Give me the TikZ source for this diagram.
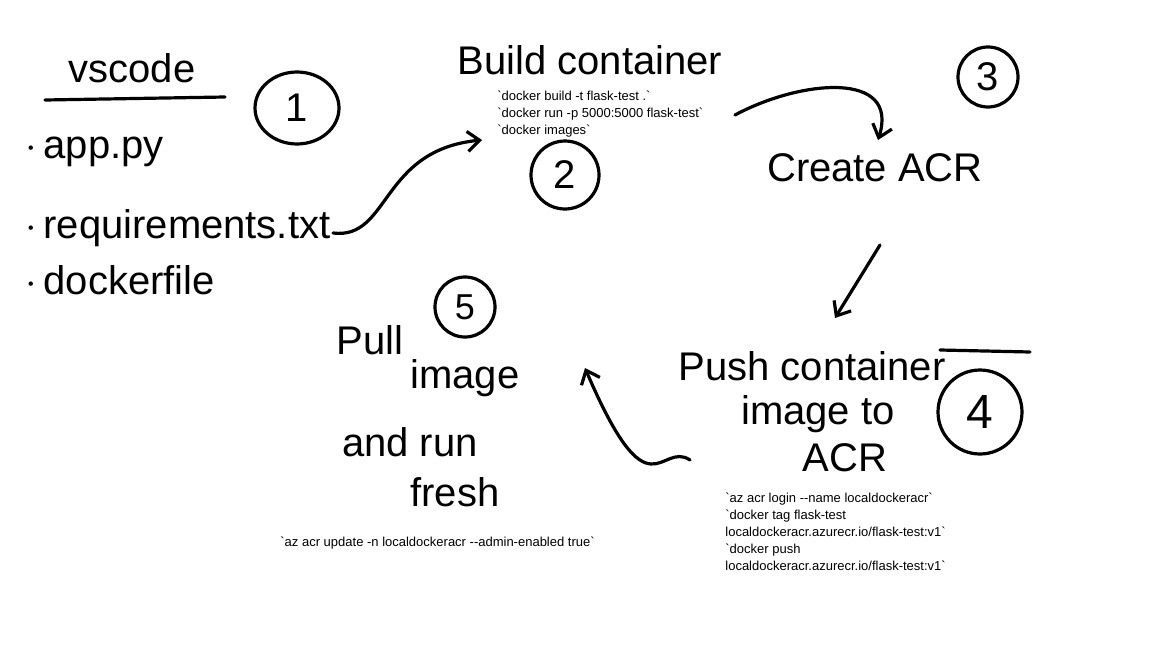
\documentclass[tikz,border=0pt]{standalone}
\usepackage{fontspec}
\setmainfont{Liberation Sans}
\newfontfamily\cmdfont{Liberation Sans}[Ligatures=TeXOff]
\usetikzlibrary{arrows.meta,shapes.geometric}
\tikzset{
  hand/.style={font=\fontsize{20}{22}\selectfont, inner sep=0pt},
  cmd/.style={font=\cmdfont\fontsize{6.5}{8.5}\selectfont, align=left, inner sep=0pt, anchor=north west},
  stroke/.style={line width=1.6pt, line cap=round, line join=round},
  num/.style={stroke, draw, ellipse, minimum width=#1, minimum height=#1},
  bigarrow/.style={stroke, -{Straight Barb[length=6pt,width=10pt]}},
}
\begin{document}
\begin{tikzpicture}[x=0.5pt,y=-0.5pt]
  \useasboundingbox (0,0) rectangle (1152,648);
  %VSCODE
  \node[hand] (vscode) at (132,68) {vscode};
  \draw[stroke] (45,100) -- (225,97);
  \node[num=36pt, minimum width=42pt] (one) at (297,108) {\fontsize{20}{22}\selectfont 1};
  \node[hand, anchor=west] (app) at (25,152) {$\cdot$\,app.py};
  \node[hand, anchor=west] (req) at (25,228) {$\cdot$\,requirements.txt};
  \node[hand, anchor=west] (dock) at (25,280) {$\cdot$\,dockerfile};
  %BUILD
  \node[hand] (build) at (590,60) {Build container};
  \node[cmd] (buildcmd) at (497,91) {`docker build -t flask-test .`\\`docker run -p 5000:5000 flask-test`\\`docker images`};
  \node[num=34pt] (two) at (565,175) {\fontsize{20}{22}\selectfont 2};
  \coordinate (a1s) at (333,233);
  \coordinate (a1e) at (482,140);
  \draw[bigarrow] (a1s) .. controls (390,240) and (380,150) .. (a1e);
  %ACR
  \node[num=30pt] (three) at (988,77) {\fontsize{20}{22}\selectfont 3};
  \node[hand] (acr) at (875,168) {Create ACR};
  \coordinate (a2s) at (735,115);
  \coordinate (a2e) at (878,140);
  \draw[bigarrow] (a2s) .. controls (800,80) and (900,70) .. (a2e);
  \coordinate (a3s) at (880,245);
  \coordinate (a3e) at (835,318);
  \draw[bigarrow] (a3s) -- (a3e);
  %PUSH
  \node[hand] (push) at (812,366) {Push container};
  \node[hand] (pushb) at (818,414) {image to};
  \node[hand] (pushc) at (845,458) {ACR};
  \draw[stroke] (940,350) -- (1030,352);
  \node[num=42pt] (four) at (980,412) {\fontsize{24}{26}\selectfont 4};
  \node[cmd] (pushcmd) at (725,493) {`az acr login --name localdockeracr`\\`docker tag flask-test\\localdockeracr.azurecr.io/flask-test:v1`\\`docker push\\localdockeracr.azurecr.io/flask-test:v1`};
  \coordinate (a4s) at (690,460);
  \coordinate (a4e) at (585,368);
  \draw[bigarrow] (a4s) .. controls (660,440) and (650,520) .. (a4e);
  %PULL
  \node[hand] (pull) at (370,340) {Pull};
  \node[hand] (pullb) at (465,378) {image};
  \node[hand] (pullc) at (410,442) {and run};
  \node[hand] (pulld) at (455,492) {fresh};
  \node[num=30pt] (five) at (465,307) {\fontsize{18}{20}\selectfont 5};
  \node[cmd, anchor=west] (pullcmd) at (280,543) {`az acr update -n localdockeracr --admin-enabled true`};
\end{tikzpicture}
\end{document}
